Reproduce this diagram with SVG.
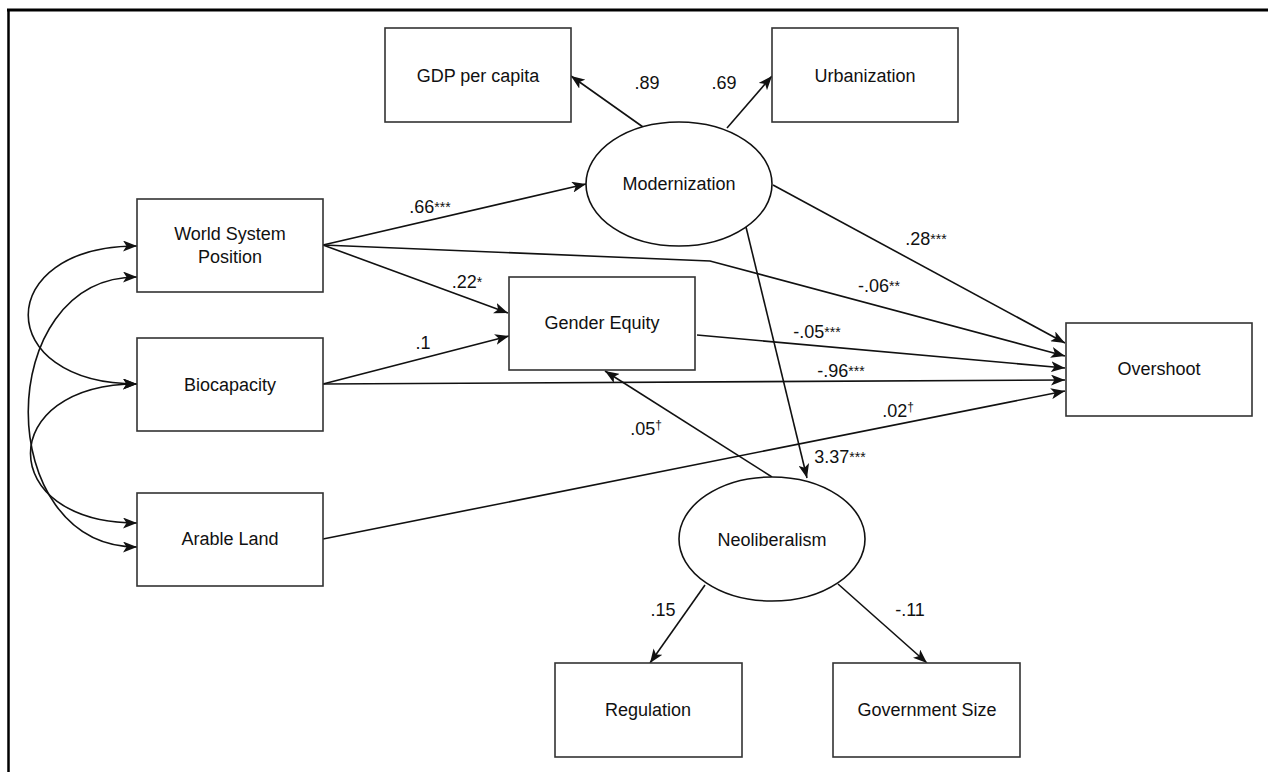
<svg xmlns="http://www.w3.org/2000/svg" width="1268" height="772" viewBox="0 0 1268 772">
<style>
.box{fill:#fff;stroke:#333;stroke-width:1.6}
.ell{fill:#fff;stroke:#111;stroke-width:1.6}
.t{font-family:"Liberation Sans",Arial,Helvetica,sans-serif;font-size:18px;fill:#111;text-anchor:middle}
.lbl{font-family:"Liberation Sans",Arial,Helvetica,sans-serif;font-size:18px;fill:#111;text-anchor:middle}
.edge{fill:none;stroke:#111;stroke-width:1.6;marker-end:url(#arr)}
.curve{fill:none;stroke:#111;stroke-width:1.6;marker-start:url(#arr);marker-end:url(#arr)}
.sup{font-size:14px;fill:#111}
.dag{font-size:12px;fill:#111}
</style>
<defs>
<marker id="arr" viewBox="0 0 14 11" refX="14" refY="5.5" markerWidth="14" markerHeight="11" markerUnits="userSpaceOnUse" orient="auto-start-reverse">
<path d="M0,0 L14,5.5 L0,11 L3.5,5.5 z" fill="#111"/>
</marker>
</defs>
<rect width="1268" height="772" fill="#fff"/>
<g id="frame" stroke="#000" fill="none">
<line x1="7" y1="10" x2="1268" y2="10" stroke-width="3"/>
<line x1="8.5" y1="9" x2="8.5" y2="772" stroke-width="2.5"/>
</g>
<g id="connectors">
<path class="edge" d="M643,127 L571,76"/>
<path class="edge" d="M727,128 L772,76"/>
<path class="edge" d="M323,245 L586,184"/>
<path class="edge" d="M323,245 L710,261 L1065,356"/>
<path class="edge" d="M323,245 L508,313"/>
<path class="edge" d="M323,384 L509,336"/>
<path class="edge" d="M323,384 L1065,380"/>
<path class="edge" d="M323,539 L1065,391"/>
<path class="edge" d="M697,335 L1065,368"/>
<path class="edge" d="M773,185 L1065,343"/>
<path class="edge" d="M746,227 L807,478"/>
<path class="edge" d="M772,477 L605,371"/>
<path class="edge" d="M705,585 L650,663"/>
<path class="edge" d="M838,584 L927,663"/>
<path class="curve" d="M137,246 C-8,246 -8,384 137,384"/>
<path class="curve" d="M137,277 C-8,277 -8,547 137,547"/>
<path class="curve" d="M137,384 C-5,384 -5,523 137,523"/>
</g>
<g id="edge-labels">
<text class="lbl" x="647" y="89">.89</text>
<text class="lbl" x="724" y="89">.69</text>
<text class="lbl" x="430" y="213">.66<tspan class="sup" dy="-1">***</tspan></text>
<text class="lbl" x="467" y="288">.22<tspan class="sup" dy="-1">*</tspan></text>
<text class="lbl" x="423" y="349">.1</text>
<text class="lbl" x="926" y="245">.28<tspan class="sup" dy="-1">***</tspan></text>
<text class="lbl" x="879" y="292">-.06<tspan class="sup" dy="-1">**</tspan></text>
<text class="lbl" x="817" y="338">-.05<tspan class="sup" dy="-1">***</tspan></text>
<text class="lbl" x="841" y="377">-.96<tspan class="sup" dy="-1">***</tspan></text>
<text class="lbl" x="898" y="417">.02<tspan class="dag" dy="-6">†</tspan></text>
<text class="lbl" x="646" y="435">.05<tspan class="dag" dy="-6">†</tspan></text>
<text class="lbl" x="840" y="463">3.37<tspan class="sup" dy="-1">***</tspan></text>
<text class="lbl" x="663" y="616">.15</text>
<text class="lbl" x="910" y="616">-.11</text>
</g>
<g id="gdp"><rect class="box" x="385" y="28" width="186" height="94"/><text class="t" x="478" y="82">GDP per capita</text></g>
<g id="urbanization"><rect class="box" x="772" y="28" width="186" height="94"/><text class="t" x="865" y="82">Urbanization</text></g>
<g id="modernization"><ellipse class="ell" cx="679" cy="184" rx="93" ry="62"/><text class="t" x="679" y="190">Modernization</text></g>
<g id="wsp"><rect class="box" x="137" y="199" width="186" height="93"/><text class="t" x="230" y="240">World System</text><text class="t" x="230" y="263">Position</text></g>
<g id="biocapacity"><rect class="box" x="137" y="338" width="186" height="93"/><text class="t" x="230" y="391">Biocapacity</text></g>
<g id="arable"><rect class="box" x="137" y="493" width="186" height="93"/><text class="t" x="230" y="545">Arable Land</text></g>
<g id="gender"><rect class="box" x="509" y="277" width="186" height="93"/><text class="t" x="602" y="329">Gender Equity</text></g>
<g id="overshoot"><rect class="box" x="1066" y="323" width="186" height="93"/><text class="t" x="1159" y="375">Overshoot</text></g>
<g id="neoliberalism"><ellipse class="ell" cx="772" cy="539" rx="93" ry="62"/><text class="t" x="772" y="546">Neoliberalism</text></g>
<g id="regulation"><rect class="box" x="555" y="663" width="187" height="94"/><text class="t" x="648" y="716">Regulation</text></g>
<g id="govsize"><rect class="box" x="833" y="663" width="187" height="94"/><text class="t" x="927" y="716">Government Size</text></g>
</svg>
